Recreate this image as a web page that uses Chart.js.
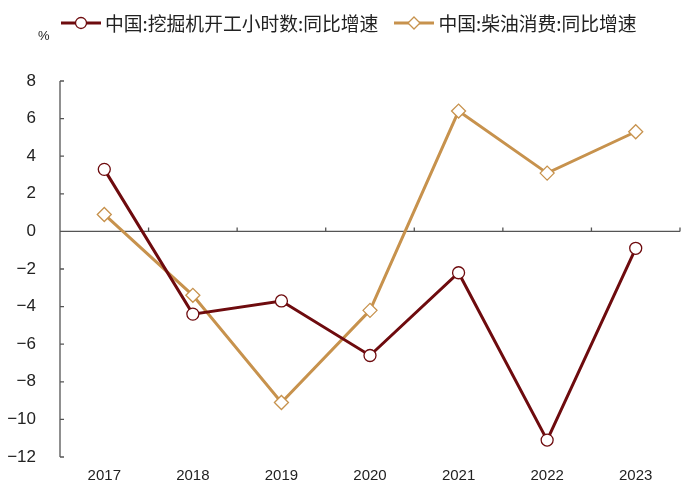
<!DOCTYPE html>
<html>
<head>
<meta charset="utf-8">
<script src="https://cdn.jsdelivr.net/npm/chart.js@4.4.1/dist/chart.umd.min.js"></script>
<style>
    body { margin: 0; background: #fff; }
    .wrap { position: relative; width: 700px; height: 493px; }
    canvas { position: absolute; left: 0; top: 0; }
    .legend { position: absolute; top: 9px; left: 61px; display: flex; align-items: center;
              font-family: "Noto Sans CJK SC", sans-serif; font-size: 18.8px; color: #222; white-space: nowrap; }
    .legend-item { display: flex; align-items: center; margin-right: 16px; }
    .legend-item svg { margin-right: 4px; }
    .unit { position: absolute; left: 38px; top: 28px; font-family: "Liberation Sans", Arial, sans-serif; font-size: 13px; color: #222; }
</style>
</head>
<body>
<div class="wrap">
    <canvas id="chart" width="700" height="493"></canvas>
    <div class="legend" id="legend"></div>
    <div class="unit">%</div>
</div>
<script>
// Chart data
const years = ['2017', '2018', '2019', '2020', '2021', '2022', '2023'];
const excavatorHours = [3.3, -4.4, -3.7, -6.6, -2.2, -11.1, -0.9];
const dieselUse = [0.9, -3.4, -9.1, -4.2, 6.4, 3.1, 5.3];
const seriesNames = ['中国:挖掘机开工小时数:同比增速', '中国:柴油消费:同比增速'];

const darkRed = '#6E0B0E';
const tan = '#C7924D';
const axisColor = '#555';

// Zero line, axis line and inward tick marks
const axisPlugin = {
    id: 'axisPlugin',
    beforeDatasetsDraw(chart) {
        const { ctx, chartArea, scales } = chart;
        const x = scales.x, y = scales.y;
        const zeroY = y.getPixelForValue(0);
        ctx.save();
        ctx.strokeStyle = axisColor;
        ctx.lineWidth = 1.3;

        // y axis line
        ctx.beginPath();
        ctx.moveTo(chartArea.left, chartArea.top);
        ctx.lineTo(chartArea.left, chartArea.bottom);
        y.ticks.forEach(t => {
            const py = y.getPixelForValue(t.value);
            ctx.moveTo(chartArea.left, py);
            ctx.lineTo(chartArea.left + 4, py);
        });

        // zero line with category boundary ticks
        ctx.moveTo(chartArea.left, zeroY);
        ctx.lineTo(chartArea.right, zeroY);
        for (let i = 0; i < years.length; i++) {
            const bx = i < years.length - 1
                ? (x.getPixelForValue(i) + x.getPixelForValue(i + 1)) / 2
                : chartArea.right;
            ctx.moveTo(bx, zeroY);
            ctx.lineTo(bx, zeroY - 4);
        }
        ctx.stroke();
        ctx.restore();
    }
};

const chart = new Chart(document.getElementById('chart'), {
    type: 'line',
    data: {
        labels: years,
        datasets: [{
            label: seriesNames[0],
            data: excavatorHours,
            borderColor: darkRed,
            borderWidth: 3,
            pointStyle: 'circle',
            pointRadius: 6,
            pointBorderWidth: 1.3,
            pointBackgroundColor: '#fff',
            pointBorderColor: darkRed,
            tension: 0
        }, {
            label: seriesNames[1],
            data: dieselUse,
            borderColor: tan,
            borderWidth: 3,
            pointStyle: 'rectRot',
            pointRadius: 7,
            pointBorderWidth: 1.3,
            pointBackgroundColor: '#fff',
            pointBorderColor: tan,
            tension: 0
        }]
    },
    options: {
        responsive: false,
        animation: false,
        layout: { padding: { top: 81, left: 0, right: 20, bottom: 0 } },
        plugins: {
            legend: { display: false },
            tooltip: { enabled: false }
        },
        scales: {
            x: {
                offset: true,
                grid: { display: false, drawTicks: false },
                border: { display: false },
                afterFit: scale => { scale.height = 36; },
                ticks: {
                    padding: 10,
                    color: '#222',
                    font: { family: 'Liberation Sans', size: 15 }
                }
            },
            y: {
                min: -12,
                max: 8,
                grid: { display: false, drawTicks: false },
                border: { display: false },
                afterFit: scale => { scale.width = 60; },
                ticks: {
                    stepSize: 2,
                    padding: 24,
                    color: '#222',
                    font: { family: 'Liberation Sans', size: 17 },
                    callback: v => String(v).replace('-', '\u2212')
                }
            }
        }
    },
    plugins: [axisPlugin]
});

// HTML legend with line + marker icons
function markerSvg(ds) {
    const c = ds.borderColor;
    const marker = ds.pointStyle === 'circle'
        ? `<circle cx="20" cy="8" r="5.5" fill="#fff" stroke="${c}" stroke-width="1.3"/>`
        : `<polygon points="20,2 26,8 20,14 14,8" fill="#fff" stroke="${c}" stroke-width="1.3"/>`;
    return `<svg width="40" height="16"><line x1="0" y1="8" x2="40" y2="8" stroke="${c}" stroke-width="3"/>${marker}</svg>`;
}

document.getElementById('legend').innerHTML = chart.data.datasets.map(ds =>
    `<span class="legend-item">${markerSvg(ds)}${ds.label}</span>`
).join('');
</script>
</body>
</html>
